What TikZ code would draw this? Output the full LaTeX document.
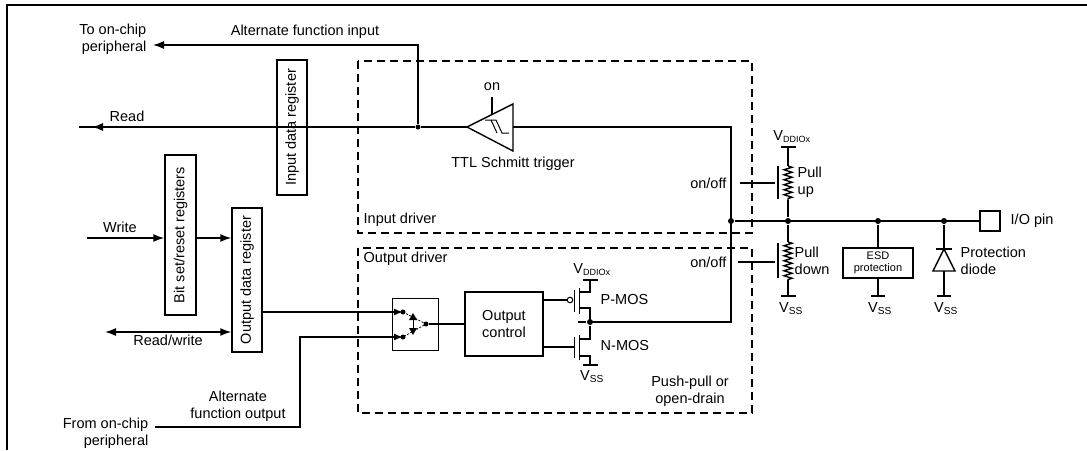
\documentclass[tikz,border=0pt]{standalone}
\usepackage{fontspec}
\setmainfont{Liberation Sans}
\usetikzlibrary{arrows.meta,decorations.pathmorphing}
\begin{document}
\begin{tikzpicture}[x=1pt,y=-1pt,line width=1.4pt,
  every node/.style={font=\fontsize{14.5}{16.5}\selectfont,inner sep=0pt},
  box/.style={draw,line width=1.4pt,inner sep=0pt},
  dashbox/.style={draw,dash pattern=on 8pt off 5pt,line width=1.4pt},
  dot/.style={circle,fill,inner sep=0pt,minimum size=6pt},
  arr/.style={-{Latex[length=11pt,width=8pt]}},
  res/.style={decorate,decoration={zigzag,segment length=5pt,amplitude=4pt}}]
\useasboundingbox (0,0) rectangle (1087,450);
% frame
\draw[line width=2pt] (7,450) -- (7,5) -- (1087,5);
% dashed boxes
\draw[dashbox] (358,61) rectangle (752,233);
\draw[dashbox] (358,248) rectangle (752,413);
\node[anchor=west] (indrv) at (363,220) {Input driver};
\node[anchor=west] (outdrv) at (363,259) {Output driver};
% registers
\node[box,minimum width=30pt,minimum height=135pt] (idr) at (292,127.5) {};
\node[rotate=90] at (idr) {Input data register};
\node[box,minimum width=31pt,minimum height=160pt] (bsr) at (180.5,235) {};
\node[rotate=90] at (bsr) {Bit set/reset registers};
\node[box,minimum width=30pt,minimum height=144pt] (odr) at (247,280) {};
\node[rotate=90] at (odr) {Output data register};
% read / alternate input
\coordinate (rdL) at (79,127);
\node[dot,minimum size=5pt] (j1) at (418,127) {};
\draw (j1) -- (rdL);
\draw[arr] (200,127) -- (92,127);
\node[anchor=south] at (127,122) {Read};
\coordinate (afiE) at (153,45);
\draw[arr] (j1) -- (418,45) -- (afiE);
\node[anchor=south] at (305,39) {Alternate function input};
\node[align=right,anchor=east] (toc) at (147,39) {To on-chip\\peripheral};
% schmitt trigger
\coordinate (stT) at (467,127);
\draw (j1) -- (stT);
\draw (stT) -- (513,104) -- (513,151) -- cycle;
\draw[line width=1pt] (485,120) -- (496,120) -- (502,133) -- (509,133);
\draw[line width=1pt] (491,120) -- (497,133);
\draw (492,97) -- (492,114.5);
\node[anchor=south] at (492,91) {on};
\node[anchor=north] at (513,156) {TTL Schmitt trigger};
\coordinate (vtop) at (731,127);
\node[dot] (jL) at (731,221) {};
\draw (513,127) -- (vtop) -- (731,322) -- (590,322);
% main line
\node[dot] (jP) at (788,221) {};
\node[dot] (jE) at (878,221) {};
\node[dot] (jD) at (944,221) {};
\node[box,minimum width=20pt,minimum height=20pt] (pin) at (990,221) {};
\node[anchor=west] at (1010,221) {I/O pin};
\draw (jL) -- (pin);
% pull-up
\draw (781,147) -- (796,147);
\draw (788,147) -- (788,166);
\draw[res] (788,166) -- (788,200);
\draw (788,200) -- (jP);
\draw[line width=2.4pt] (778,166) -- (778,199);
\draw (740,183) -- (775,183);
\node[anchor=east] at (727,183) {on/off};
\node[anchor=west,align=left] at (797,182) {Pull\\up};
\node[anchor=south] at (792,143) {V\textsubscript{\fontsize{9}{10}\selectfont DDIOx}};
% pull-down
\draw (jP) -- (788,242);
\draw[res] (788,242) -- (788,280);
\draw (788,280) -- (788,296);
\draw (781,296) -- (796,296);
\draw[line width=2.4pt] (778,243) -- (778,278);
\draw (738,262) -- (775,262);
\node[anchor=east] at (727,262) {on/off};
\node[anchor=west,align=left] at (794,261) {Pull\\down};
\node[anchor=north] at (791,302) {V\textsubscript{SS}};
% ESD
\node[box,minimum width=70pt,minimum height=30pt,align=center,font=\fontsize{11}{12}\selectfont] (esd) at (878,263) {ESD\\protection};
\draw (jE) -- (esd.north);
\draw (esd.south) -- (878,296);
\draw (871,296) -- (885,296);
\node[anchor=north] at (880,302) {V\textsubscript{SS}};
% diode
\draw (jD) -- (944,249);
\draw (936,249) -- (952,249);
\draw (944,249) -- (933,271) -- (955,271) -- cycle;
\draw (944,271) -- (944,296);
\draw (937,296) -- (951,296);
\node[anchor=north] at (946,302) {V\textsubscript{SS}};
\node[anchor=west,align=left] at (960,261) {Protection\\diode};
% write paths
\coordinate (wr) at (87,238);
\draw[arr] (wr) -- (bsr.west |- wr);
\node[anchor=south] at (120,233) {Write};
\draw[arr] (bsr.east |- wr) -- (odr.west |- wr);
\coordinate (rw) at (105,332);
\draw[{Latex[length=11pt,width=8pt]}-{Latex[length=11pt,width=8pt]}] (rw) -- (odr.west |- rw);
\node[anchor=north] at (168,334) {Read/write};
% mux
\node[draw,line width=1pt,minimum width=46pt,minimum height=52pt] (mux) at (415,324) {};
\draw (odr.east |- 0,312) -- (392,312);
\coordinate (afo) at (155,427);
\draw (afo) -- (300,427) -- (300,337) -- (392,337);
\node[align=center,anchor=south] at (238,422) {Alternate\\function output};
\node[align=right,anchor=east] at (149,433) {From on-chip\\peripheral};
\draw[-{Latex[length=9pt,width=7pt]}] (392,312) -- (403,312);
\draw[-{Latex[length=9pt,width=7pt]}] (392,337) -- (403,337);
\node[dot,minimum size=5pt] at (403,312) {};
\node[dot,minimum size=5pt] at (403,337) {};
\node[dot,minimum size=5pt] (mo) at (426,324) {};
\draw[line width=0.8pt,dash pattern=on 2pt off 1.5pt] (403,312) -- (426,324) -- (403,337);
\draw[line width=1pt] (413,318) -- (413,330);
\fill (409,320) -- (417,320) -- (413,313) -- cycle;
\fill (409,328) -- (417,328) -- (413,335) -- cycle;
% output control
\node[box,minimum width=78pt,minimum height=64pt,align=center] (oc) at (504,324) {Output\\control};
\draw (mo) -- (oc.west);
% P-MOS
\draw (oc.east |- 0,300) -- (567,300);
\draw[line width=1pt] (570,300) circle (2.8pt);
\draw[line width=1.6pt] (574.5,290) -- (574.5,312);
\draw[line width=1.6pt] (579.5,288) -- (579.5,314);
\draw (579.5,292) -- (590,292) -- (590,280);
\draw (583,280) -- (598,280);
\draw (579.5,308) -- (590,308) -- (590,322);
\node[dot] (jM) at (590,322) {};
\draw (578,322) -- (jM);
\node[anchor=south] at (592,276) {V\textsubscript{\fontsize{9}{10}\selectfont DDIOx}};
\node[anchor=west] at (600,300) {P-MOS};
% N-MOS
\draw (oc.east |- 0,347) -- (574.5,347);
\draw[line width=1.6pt] (574.5,337) -- (574.5,358);
\draw[line width=1.6pt] (579.5,335) -- (579.5,360);
\draw (jM) -- (590,339) -- (579.5,339);
\draw (579.5,356) -- (590,356) -- (590,365);
\draw (583,365) -- (598,365);
\node[anchor=north] at (592,370) {V\textsubscript{SS}};
\node[anchor=west] at (600,346) {N-MOS};
\node[align=center] at (690,391) {Push-pull or\\open-drain};
\end{tikzpicture}
\end{document}
